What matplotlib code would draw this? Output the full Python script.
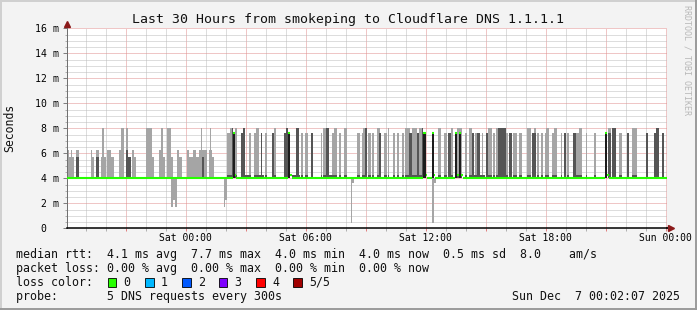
import matplotlib
matplotlib.use('Agg')
import matplotlib.pyplot as plt
from matplotlib.patches import Rectangle
import numpy as np

W, H = 697, 310
plt.rcParams['font.family'] = ['DejaVu Sans Mono', 'DejaVu Sans']

# time axis: hours since Fri 18:00, window Fri 18:02:07 .. Sun 00:02:07
t_begin = 0.035
t_end = 30.035

# smoke (5 pings / step): highest ping and 4th ping, in ms
smoke_start = [0.04, 0.16, 0.27, 0.51, 1.26, 1.26, 1.51, 1.75, 1.80, 2.05,
               2.25, 2.66, 2.76, 3.01, 3.13, 3.31, 3.31, 4.01, 4.30, 4.65,
               4.75, 4.85, 5.05, 5.26, 5.55, 5.66, 6.05, 6.18, 6.38, 6.51,
               6.66, 6.76, 6.81, 6.91, 7.16, 7.20, 7.31,
               8.08, 8.21, 8.30, 8.46, 8.76, 8.88, 8.98, 9.18, 9.41,
               9.51, 9.68, 9.75, 9.96, 10.31, 10.41, 10.91, 11.01, 11.30, 11.51,
               11.75, 11.96, 12.28, 12.75, 12.88, 13.01, 13.01, 13.30, 13.43, 13.66,
               13.91, 14.58, 14.80, 14.88, 14.95, 15.13, 15.30, 15.55, 15.68, 15.91,
               16.11, 16.38, 16.55, 16.80, 16.96, 17.18, 17.31, 17.55, 17.68, 17.81,
               18.63, 18.91, 19.13, 19.26, 19.45, 19.58, 19.96, 20.18, 20.30, 20.30,
               20.46, 20.58, 20.80, 21.01, 21.13, 21.38, 21.51, 21.63, 22.00, 22.18,
               22.38, 22.68, 23.05, 23.30, 23.41, 23.58, 23.75, 23.96, 24.01, 24.30,
               24.41, 24.75, 24.91, 25.05, 25.38, 25.51, 25.68, 26.01, 26.41, 27.10,
               27.30, 27.65, 28.08, 28.31, 29.01, 29.41, 29.51, 29.80]
smoke_end = [0.16, 0.41, 0.32, 0.65, 1.41, 1.31, 1.65, 2.01, 1.91, 2.25,
             2.41, 2.86, 2.91, 3.13, 3.26, 3.51, 3.41, 4.31, 4.41, 4.75,
             4.85, 4.98, 5.26, 5.36, 5.66, 5.80, 6.18, 6.38, 6.51, 6.66,
             6.81, 6.83, 6.91, 7.05, 7.31, 7.25, 7.41,
             8.21, 8.35, 8.38, 8.56, 8.88, 8.98, 9.16, 9.26, 9.51,
             9.68, 9.91, 9.81, 10.08, 10.43, 10.51, 11.01, 11.13, 11.70, 11.65,
             11.85, 12.10, 12.38, 12.81, 13.01, 13.15, 13.30, 13.40, 13.56, 13.78,
             14.05, 14.71, 14.88, 15.05, 15.05, 15.25, 15.41, 15.71, 15.78, 16.08,
             16.18, 16.48, 16.65, 16.91, 17.21, 17.31, 17.55, 17.68, 17.80, 17.88,
             18.76, 19.05, 19.25, 19.38, 19.55, 19.80, 20.05, 20.30, 20.43, 20.95,
             20.58, 20.71, 20.88, 21.13, 21.30, 21.48, 21.63, 21.99, 22.13, 22.30,
             22.55, 22.80, 23.26, 23.41, 23.51, 23.68, 23.88, 24.08, 24.18, 24.41,
             24.58, 24.81, 25.01, 25.15, 25.51, 25.68, 25.81, 26.08, 26.51, 27.25,
             27.51, 27.80, 28.18, 28.58, 29.11, 29.51, 29.68, 29.91]
smoke_top = [6.3, 5.7, 6.3, 6.3, 5.7, 6.3, 6.3, 5.7, 8.0, 6.3,
             5.7, 6.3, 8.0, 8.0, 5.7, 5.7, 6.3, 8.0, 5.7, 6.3,
             8.0, 5.7, 8.0, 5.7, 6.3, 5.7, 6.3, 5.7, 6.3, 5.7,
             6.3, 8.0, 6.3, 6.3, 6.3, 8.0, 5.7,
             7.6, 8.0, 8.0, 8.0, 7.6, 8.0, 4.3, 7.6, 7.6,
             8.0, 4.3, 7.6, 7.6, 7.6, 8.0, 7.6, 8.0, 4.3, 8.0,
             7.6, 7.6, 7.6, 7.6, 8.0, 8.0, 4.3, 7.6, 8.0, 7.6,
             8.0, 7.6, 7.6, 8.0, 8.0, 7.6, 7.6, 8.0, 7.6, 7.6,
             8.0, 7.6, 7.6, 7.6, 8.0, 7.6, 8.0, 7.6, 8.0, 8.0,
             8.0, 7.6, 7.6, 8.0, 7.6, 8.0, 7.6, 8.0, 7.6, 4.3,
             7.6, 7.6, 7.6, 7.6, 8.0, 7.6, 8.0, 8.0, 7.6, 7.6,
             7.6, 7.6, 8.0, 7.6, 8.0, 7.6, 7.6, 7.6, 8.0, 7.6,
             8.0, 7.6, 7.6, 7.6, 7.6, 7.6, 8.0, 7.6, 7.6, 8.0,
             8.0, 7.6, 7.6, 8.0, 7.6, 7.6, 8.0, 7.6]
smoke_inner = [4.0, 4.0, 4.0, 5.7, 4.0, 4.0, 5.7, 4.0, 4.0, 4.0,
               4.0, 4.0, 4.0, 6.3, 5.7, 4.0, 4.0, 4.0, 4.0, 4.0,
               4.0, 4.0, 4.0, 4.0, 4.0, 4.0, 4.0, 4.0, 4.0, 4.0,
               4.0, 4.0, 5.7, 4.0, 4.0, 4.0, 4.0,
               4.3, 4.3, 8.0, 4.3, 7.6, 8.0, 4.3, 4.3, 4.3,
               4.3, 4.3, 7.6, 4.3, 7.6, 4.3, 7.6, 8.0, 4.3, 8.0,
               4.3, 4.3, 7.6, 4.3, 4.3, 8.0, 4.3, 4.3, 4.3, 4.3,
               4.3, 4.3, 4.3, 4.3, 8.0, 4.3, 4.3, 4.3, 7.6, 4.3,
               4.3, 4.3, 4.3, 4.3, 4.3, 7.6, 4.3, 7.6, 4.3, 8.0,
               4.3, 4.3, 7.6, 4.3, 7.6, 4.3, 4.3, 4.3, 7.6, 4.3,
               4.3, 7.6, 4.3, 7.6, 4.3, 4.3, 4.3, 8.0, 4.3, 7.6,
               4.3, 4.3, 4.3, 7.6, 7.6, 4.3, 4.3, 4.3, 4.3, 4.3,
               4.3, 4.3, 7.6, 4.3, 7.6, 4.3, 4.3, 4.3, 4.3, 7.6,
               8.0, 4.3, 7.6, 4.3, 7.6, 7.6, 8.0, 7.6]

# lowest ping where it dropped below the median
low_start = [5.26, 5.36, 5.46, 7.91, 7.98, 14.25, 14.30, 18.30, 18.40]
low_end = [5.36, 5.46, 5.56, 7.98, 8.08, 14.31, 14.41, 18.40, 18.50]
low_bottom = [1.7, 2.3, 1.7, 1.7, 2.3, 0.45, 3.6, 0.4, 3.6]

# median rtt: 4.0 ms except these steps
median_base = 4.0
median_start = [8.38, 8.46, 11.13, 11.23, 17.88, 17.99, 18.30, 18.40,
                19.48, 19.58, 19.68, 19.78, 26.98, 27.08]
median_end = [8.46, 8.53, 11.23, 11.30, 17.99, 18.06, 18.40, 18.48,
              19.58, 19.68, 19.78, 19.85, 27.08, 27.15]
median_value = [7.6, 4.3, 7.6, 4.3, 7.6, 4.3, 7.6, 4.3,
                7.6, 4.3, 7.6, 4.3, 7.6, 4.3]

x_tick_hours = [6, 12, 18, 24, 30]
x_tick_labels = ['Sat 00:00', 'Sat 06:00', 'Sat 12:00', 'Sat 18:00', 'Sun 00:00']
y_tick_values = [0, 2, 4, 6, 8, 10, 12, 14, 16]
y_tick_labels = ['0  ', '2 m', '4 m', '6 m', '8 m', '10 m', '12 m', '14 m', '16 m']

loss_labels = ['0', '1', '2', '3', '4', '5/5']
loss_colors = ['#26ff00', '#00b8ff', '#0059ff', '#7e00ff', '#ff0000', '#a10000']

LIGHT = '#a5a5a5'
DARK = '#555555'
GREEN = loss_colors[0]

fig = plt.figure(figsize=(W / 100, H / 100), dpi=100, facecolor='#f3f3f3')
ax = fig.add_axes([66.5 / W, (H - 228.3) / H, 600 / W, 200 / H])
ax.set_facecolor('white')
ax.set_xlim(t_begin, t_end)
ax.set_ylim(0, 16)

s0 = np.array(smoke_start)
s1 = np.array(smoke_end)
top = np.array(smoke_top)
inner = np.array(smoke_inner)

# outer smoke band
ax.bar(s0, top - median_base, bottom=median_base, width=s1 - s0, align='edge',
       color=LIGHT, linewidth=0, antialiased=False, zorder=2)
l0 = np.array(low_start)
l1 = np.array(low_end)
lb = np.array(low_bottom)
ax.bar(l0, median_base - lb, bottom=lb, width=l1 - l0, align='edge',
       color=LIGHT, linewidth=0, antialiased=False, zorder=2)
# inner smoke band
m = inner > median_base
ax.bar(s0[m], inner[m] - median_base, bottom=median_base, width=(s1 - s0)[m],
       align='edge', color=DARK, linewidth=0, antialiased=False, zorder=3)

# median rtt line
m0 = np.array(median_start)
m1 = np.array(median_end)
mv = np.array(median_value)
up = mv > 5
ax.bar(m0[up], mv[up] - median_base, bottom=median_base, width=(m1 - m0)[up],
       align='edge', color='#1c1c1c', linewidth=0, antialiased=False, zorder=4)
base_x0, base_x1 = [], []
cur = t_begin
for a, b in sorted(zip(median_start, median_end)):
    if a > cur:
        base_x0.append(cur)
        base_x1.append(a)
    cur = max(cur, b)
base_x0.append(cur)
base_x1.append(t_end)
ax.hlines([median_base] * len(base_x0), base_x0, base_x1, colors=GREEN,
          linewidth=1.5, zorder=5)
ax.hlines(median_value, median_start, median_end, colors=GREEN,
          linewidth=1.5, zorder=5)

# grid and axes
ax.set_xticks(np.arange(3, 31, 3))
ax.set_xticklabels([x_tick_labels[x_tick_hours.index(h)] if h in x_tick_hours else ''
                    for h in range(3, 31, 3)])
ax.set_xticks(np.arange(1, 31), minor=True)
ax.set_yticks(y_tick_values)
ax.set_yticklabels(y_tick_labels)
ax.set_yticks(np.arange(0, 16.01, 0.5), minor=True)
ax.set_axisbelow(True)
ax.grid(which='major', color='#e08e8e', linestyle=(0, (1, 1)), linewidth=0.72)
ax.grid(which='minor', color='#bdbdbd', linestyle=(0, (1, 1)), linewidth=0.72)
ax.tick_params(axis='x', which='major', length=2, width=0.72, color='#e08080',
               labelsize=7, pad=1.5)
ax.tick_params(axis='x', which='minor', length=2, width=0.72, color='#b0b0b0')
ax.tick_params(axis='y', which='major', length=3, width=0.72, color='#808080',
               labelsize=7.1, pad=2.3)
ax.tick_params(axis='y', which='minor', length=1.5, width=0.72, color='#b0b0b0')
for sp in ['top', 'right']:
    ax.spines[sp].set_visible(False)
ax.spines['left'].set_color('#707070')
ax.spines['left'].set_linewidth(0.72)
ax.spines['bottom'].set_color('black')
ax.spines['bottom'].set_linewidth(1.1)
ax.spines['bottom'].set_zorder(6)

# axis arrows
ax.plot([0, 0], [1, 1.02], transform=ax.transAxes, color='#707070', lw=0.72,
        clip_on=False)
ax.plot([1, 1.008], [0, 0], transform=ax.transAxes, color='black', lw=1.1,
        clip_on=False)
ax.plot([0], [1.022], transform=ax.transAxes, marker='^', ms=4.2, color='#8b1a1a',
        clip_on=False, linestyle='none')
ax.plot([1.008], [0], transform=ax.transAxes, marker='>', ms=4.2, color='#8b1a1a',
        clip_on=False, linestyle='none')

# texts
def fx(px):
    return px / W

def fy(py):
    return 1 - py / H

fig.text(fx(348), fy(19), 'Last 30 Hours from smokeping to Cloudflare DNS 1.1.1.1',
         ha='center', va='center', fontsize=9.5, color='#111111')
fig.text(fx(10), fy(128), 'Seconds', rotation=90, ha='center', va='center',
         fontsize=8.3, color='#111111')
fig.text(fx(687), fy(5), 'RRDTOOL / TOBI OETIKER', rotation=270, ha='center',
         va='top', fontsize=6, color='#b8b8b8')

lx = fx(15.6)
fig.text(lx, fy(254.3), 'median rtt:  4.1 ms avg  7.7 ms max  4.0 ms min  '
         '4.0 ms now  0.5 ms sd  8.0    am/s', ha='left', va='center',
         fontsize=8.4, color='#111111')
fig.text(lx, fy(268.3), 'packet loss: 0.00 % avg  0.00 % max  0.00 % min  '
         '0.00 % now', ha='left', va='center', fontsize=8.4, color='#111111')
fig.text(lx, fy(282.3), 'loss color:', ha='left', va='center', fontsize=8.4,
         color='#111111')
sw_x = [108, 145.3, 182.2, 219.1, 256.4, 293.3]
for i, (lab, col) in enumerate(zip(loss_labels, loss_colors)):
    fig.add_artist(Rectangle((fx(sw_x[i]), fy(286.6)), 8.4 / W, 8.3 / H,
                             transform=fig.transFigure, facecolor=col,
                             edgecolor='black', linewidth=0.6))
    fig.text(fx(sw_x[i] + 15.6), fy(282.3), lab, ha='left', va='center',
             fontsize=8.4, color='#111111')
fig.text(lx, fy(296.3), 'probe:       5 DNS requests every 300s', ha='left',
         va='center', fontsize=8.4, color='#111111')
fig.text(fx(680), fy(296.3), 'Sun Dec  7 00:02:07 2025', ha='right', va='center',
         fontsize=8.4, color='#111111')

# frame
fig.add_artist(plt.Line2D([0, 1], [1 - 1 / H, 1 - 1 / H], color='#d0d0d0', lw=1.4))
fig.add_artist(plt.Line2D([1 / W, 1 / W], [0, 1], color='#d0d0d0', lw=1.4))
fig.add_artist(plt.Line2D([0, 1], [1 / H, 1 / H], color='#9a9a9a', lw=1.4))
fig.add_artist(plt.Line2D([1 - 1 / W, 1 - 1 / W], [0, 1], color='#9a9a9a', lw=1.4))

fig.savefig('out.png', dpi=100, facecolor=fig.get_facecolor())
